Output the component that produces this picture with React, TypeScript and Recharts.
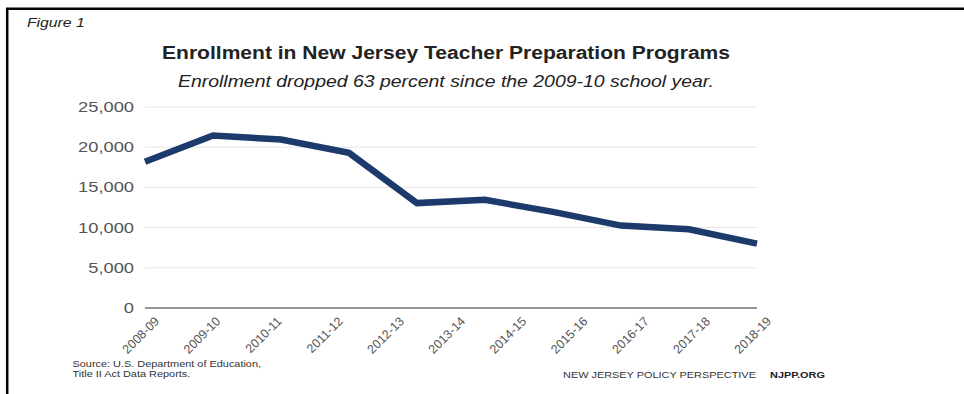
import React from "react";
import { LineChart, Line, XAxis, YAxis, CartesianGrid } from "recharts";

// tick labels printed under the axis
const periodLabels = [
  "2008-09",
  "2009-10",
  "2010-11",
  "2011-12",
  "2012-13",
  "2013-14",
  "2014-15",
  "2015-16",
  "2016-17",
  "2017-18",
  "2018-19",
];

// the plotted line has ten points spread over the full axis width
const seriesYears = ["2009", "2010", "2011", "2012", "2013", "2014", "2015", "2016", "2017", "2018"];
const enrollment = [18200, 21450, 20950, 19300, 13050, 13450, 11950, 10250, 9800, 8000];

const yTicks = [0, 5000, 10000, 15000, 20000, 25000];

const labelRows = periodLabels.map((period) => ({ period }));
const seriesRows = seriesYears.map((year, i) => ({ year, value: enrollment[i] }));

const FONT = "'Liberation Sans', Arial, Helvetica, sans-serif";

function YTick(props: any) {
  const { x, y, payload } = props;
  return (
    <text
      transform={`translate(${x},${y}) scale(1.22,1)`}
      textAnchor="end"
      dominantBaseline="central"
      fontSize={15}
      fontFamily={FONT}
      fill="#555"
    >
      {payload.value.toLocaleString("en-US")}
    </text>
  );
}

function XTick(props: any) {
  const { x, y, payload } = props;
  return (
    <text
      transform={`translate(${x + 15},${y + 6}) rotate(-45)`}
      textAnchor="end"
      fontSize={12.5}
      fontFamily={FONT}
      fill="#555"
    >
      {payload.value}
    </text>
  );
}

export default function App() {
  return (
    <div style={{ position: "absolute", left: 0, top: 0, width: 964, height: 394, background: "#fff" }}>
      <LineChart
        width={964}
        height={394}
        data={labelRows}
        margin={{ top: 107, right: 207, left: 65, bottom: 36 }}
        style={{ position: "absolute", left: 0, top: 0 }}
      >
        <CartesianGrid xAxisId="labels" vertical={false} stroke="#e6e6e6" strokeWidth={1} />
        <XAxis
          xAxisId="labels"
          dataKey="period"
          interval={0}
          height={50}
          tickLine={false}
          axisLine={{ stroke: "#777", strokeWidth: 1.5 }}
          tick={<XTick />}
        />
        <XAxis xAxisId="series" dataKey="year" hide />
        <YAxis
          width={80}
          domain={[0, 25000]}
          ticks={yTicks}
          axisLine={false}
          tickLine={false}
          tickMargin={5}
          tick={<YTick />}
        />
        <Line
          xAxisId="series"
          data={seriesRows}
          dataKey="value"
          type="linear"
          stroke="#1c3a6c"
          strokeWidth={6.5}
          dot={false}
          isAnimationActive={false}
        />
      </LineChart>
      <svg
        width={964}
        height={394}
        style={{ position: "absolute", left: 0, top: 0, pointerEvents: "none" }}
        fontFamily={FONT}
      >
        <line x1={6} y1={8.7} x2={964} y2={8.7} stroke="#000" strokeWidth={2.5} />
        <line x1={7.2} y1={8} x2={7.2} y2={394} stroke="#000" strokeWidth={2.5} />
        <text transform="translate(27,27) scale(1.15,1)" fontSize={13.7} fontStyle="italic" fill="#222">
          Figure 1
        </text>
        <text
          transform="translate(446,59) scale(1.15,1)"
          textAnchor="middle"
          fontSize={18.3}
          fontWeight="bold"
          fill="#222"
        >
          Enrollment in New Jersey Teacher Preparation Programs
        </text>
        <text
          transform="translate(446,87) scale(1.15,1)"
          textAnchor="middle"
          fontSize={16.9}
          fontStyle="italic"
          fill="#222"
        >
          Enrollment dropped 63 percent since the 2009-10 school year.
        </text>
        <text transform="translate(72.5,367) scale(1.15,1)" fontSize={9.5} fill="#333">
          Source: U.S. Department of Education,
        </text>
        <text transform="translate(72.5,377) scale(1.15,1)" fontSize={9.5} fill="#333">
          Title II Act Data Reports.
        </text>
        <text transform="translate(563,378) scale(1.15,1)" fontSize={9.5} fill="#333">
          NEW JERSEY POLICY PERSPECTIVE
        </text>
        <text transform="translate(770,378) scale(1.15,1)" fontSize={9.5} fontWeight="bold" fill="#222">
          NJPP.ORG
        </text>
      </svg>
    </div>
  );
}
